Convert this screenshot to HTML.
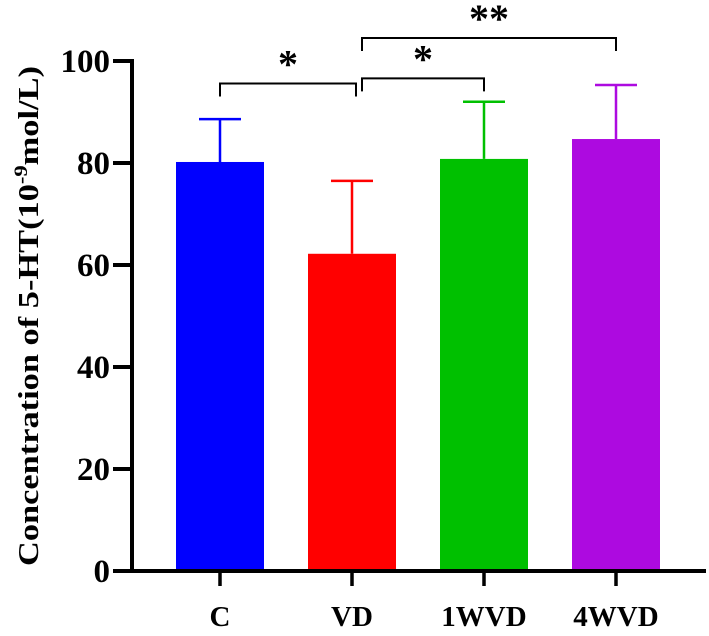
<!DOCTYPE html>
<html><head><meta charset="utf-8"><style>
body{margin:0;background:#fff}
svg text{font-family:"Liberation Serif",serif;font-weight:bold}
</style></head><body>
<svg width="709" height="631" id="c"></svg>
<script>
const categories=["C","VD","1WVD","4WVD"];
const means=[80.2,62.2,80.8,84.7];
const errors=[8.4,14.3,11.2,10.6];
const colors=["#0000ff","#ff0000","#00c000","#ad0ae0"];
const yTicks=[0,20,40,60,80,100];
const sig=[{a:0,b:1,y:95.6,label:"*"},{a:1,b:2,y:96.6,label:"*"},{a:1,b:3,y:104.5,label:"**"}];
const NS="http://www.w3.org/2000/svg",svg=document.getElementById('c');
const y=v=>571-v*5.1, x=i=>220+i*132;
function mk(t,a,p){const e=document.createElementNS(NS,t);for(const k in a)e.setAttribute(k,a[k]);(p||svg).appendChild(e);return e;}
categories.forEach((c,i)=>{
 const r=mk('rect',{x:x(i)-44,y:y(means[i]),width:88,height:y(0)-y(means[i]),fill:colors[i]});
 
 
 const e=mk('path',{d:`M${x(i)},${y(means[i])}V${y(means[i]+errors[i])}M${x(i)-21},${y(means[i]+errors[i])}H${x(i)+21}`,stroke:colors[i],'stroke-width':2.5,fill:'none'});
 
 
 mk('line',{x1:x(i),x2:x(i),y1:571,y2:586,stroke:'#000','stroke-width':3.5});
 const t=mk('text',{x:x(i),y:626,'text-anchor':'middle','font-size':29});t.textContent=c;
 
 
});
mk('path',{d:'M132,59V571M113,571H706',stroke:'#000','stroke-width':4,fill:'none'});
yTicks.forEach(v=>{
 mk('line',{x1:113,x2:132,y1:y(v),y2:y(v),stroke:'#000','stroke-width':4});
 const t=mk('text',{x:110,y:y(v)+11,'text-anchor':'end','font-size':33});t.textContent=v;
 
 
});
sig.forEach((s,k)=>{
 const x1=x(s.a)+(k==0?0:10),x2=x(s.b)+(k==0?4:0),yy=y(s.y);
 const g=mk('path',{d:`M${x1},${yy+13}V${yy}H${x2}V${yy+13}`,stroke:'#000','stroke-width':2,fill:'none'});
 
 
 const t=mk('text',{x:(x1+x2)/2,y:yy-6,'text-anchor':'middle','font-size':40});t.textContent=s.label;
 
 
});
const yt=mk('text',{transform:'translate(38,316) rotate(-90)','text-anchor':'middle','font-size':29,textLength:500,lengthAdjust:'spacingAndGlyphs'});


yt.innerHTML='Concentration of 5-HT(10<tspan dy="-11" font-size="19">-9</tspan><tspan dy="11">mol/L)</tspan>';
</script>
</body></html>
